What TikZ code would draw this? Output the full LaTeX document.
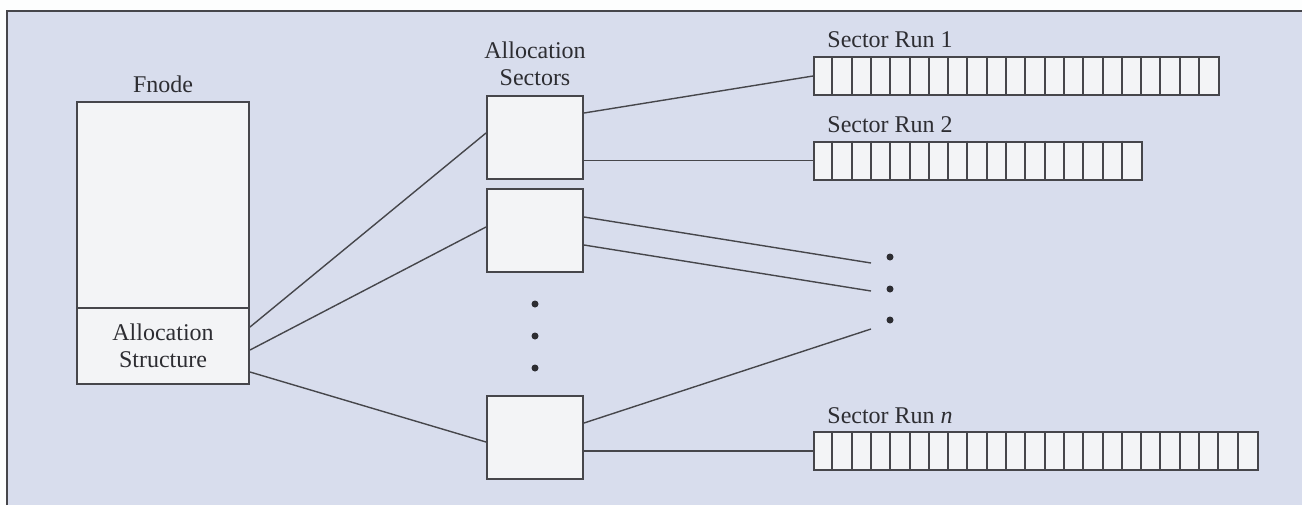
\documentclass[tikz,border=0pt]{standalone}
\usepackage{fontspec}
\setmainfont{Liberation Serif}
\usetikzlibrary{calc}
\definecolor{panel}{RGB}{216,221,237}
\definecolor{boxfill}{RGB}{243,244,246}
\definecolor{ink}{RGB}{70,70,75}
\definecolor{txt}{RGB}{45,45,50}
\tikzset{
  box/.style={draw=ink, line width=1pt, fill=boxfill, inner sep=0pt},
  sectorbox/.style={box, minimum width=48pt, minimum height=41.5pt},
  runbox/.style={box, minimum height=19pt, anchor=west},
  link/.style={draw=ink, line width=0.7pt},
  lbl/.style={text=txt, font=\fontsize{12}{13.5}\selectfont, inner sep=0pt, align=center},
  dot/.style={fill=txt}
}
% one run of sectors: #1 name, #2 y, #3 number of cells
\newcommand\sectorrun[3]{%
  \node[runbox, minimum width={#3*9.65pt}] (#1) at (813,#2) {};
  \foreach \k in {1,...,\numexpr#3-1\relax}
    \draw[draw=ink, line width=1pt] ($(#1.north west)+(\k*19.3,0)$) -- ($(#1.south west)+(\k*19.3,0)$);
}
\begin{document}
\begin{tikzpicture}[x=0.5pt, y=-0.5pt]
  \useasboundingbox (0,0) rectangle (1302,505);
  \fill[white!96!panel] (0,0) rectangle (1302,505);
  \fill[panel] (7,11) rectangle (1302,505);
  \draw[draw=ink, line width=1pt] (7,505) -- (7,11) -- (1302,11);

  % Fnode
  \node[lbl] (fnodelbl) at (163,84) {Fnode};
  \node[box, minimum width=86pt, minimum height=103pt] (fn) at (163,205) {};
  \node[box, minimum width=86pt, minimum height=38pt] (as) at (163,346) {};
  \node[lbl] (astext) at (as) {Allocation\\Structure};

  % allocation sectors
  \node[lbl] (aslbl) at (535,63.5) {Allocation\\Sectors};
  \node[sectorbox] (s1) at (535,137.5) {};
  \node[sectorbox] (s2) at (535,230.5) {};
  \node[sectorbox] (s4) at (535,437.5) {};
  \foreach \yy in {304,336,368} \fill[dot] (535,\yy) circle (3.5);

  % sector runs
  \node[lbl, anchor=west] (r1lbl) at (827,40) {Sector Run 1};
  \sectorrun{r1}{76}{21}
  \node[lbl, anchor=west] (r2lbl) at (827,125) {Sector Run 2};
  \sectorrun{r2}{160.5}{17}
  \node[lbl, anchor=west] (rnlbl) at (827,416) {Sector Run \textit{n}};
  \sectorrun{rn}{451}{23}
  \foreach \yy in {257,289,320} \fill[dot] (890,\yy) circle (3.5);

  % loose ends toward the elided runs
  \coordinate (e1) at (871,263);
  \coordinate (e2) at (871,291);
  \coordinate (e3) at (871,329);

  % connectors
  \draw[link] ($(as.east)+(0,-19)$) -- ($(s1.west)+(0,-4.5)$);
  \draw[link] ($(as.east)+(0,4)$) -- ($(s2.west)+(0,-3.5)$);
  \draw[link] ($(as.east)+(0,26)$) -- ($(s4.west)+(0,4.5)$);
  \draw[link] ($(s1.east)+(0,-24.5)$) -- (r1.west);
  \draw[link] ($(s1.east)+(0,23)$) -- (r2.west);
  \draw[link] ($(s2.east)+(0,-13.5)$) -- (e1);
  \draw[link] ($(s2.east)+(0,14.5)$) -- (e2);
  \draw[link] ($(s4.east)+(0,-14.5)$) -- (e3);
  \draw[link] ($(s4.east)+(0,13.5)$) -- (rn.west);
\end{tikzpicture}
\end{document}
